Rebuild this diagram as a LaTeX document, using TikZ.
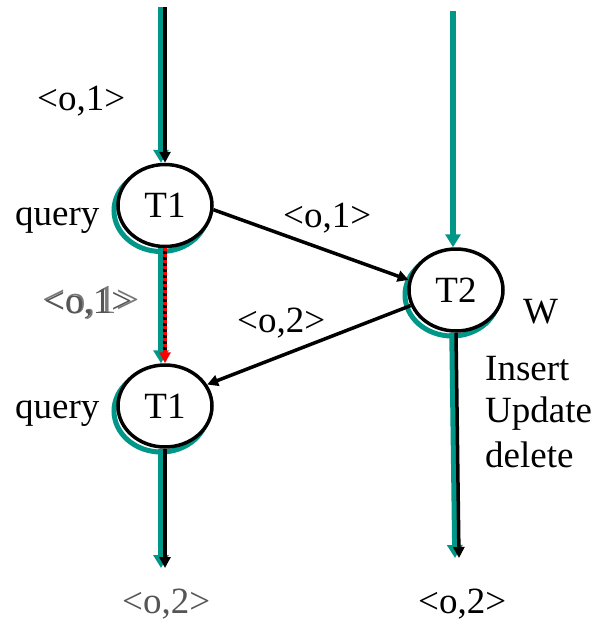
\documentclass[tikz,border=0pt]{standalone}
\usepackage{fontspec}
\setmainfont{Liberation Serif}
\usetikzlibrary{arrows.meta,shapes.geometric,shadows}
\definecolor{tealc}{RGB}{0,150,136}
\definecolor{grayA}{RGB}{85,85,85}
\definecolor{grayB}{RGB}{120,120,120}
\begin{document}
\begin{tikzpicture}[x=1pt,y=-1pt,
  every node/.style={font=\fontsize{37}{43}\selectfont},
  lbl/.style={anchor=base west, inner sep=0pt},
  proc/.style={ellipse, draw=black, fill=white, line width=3.5pt,
    minimum width=94pt, minimum height=82pt, inner sep=0pt,
    general shadow={draw=tealc, fill=none, line width=5pt, shadow xshift=-4pt, shadow yshift=-5pt}},
  blk/.style={draw=black, line width=3.5pt, -{Triangle[length=11pt,width=11pt]}},
  tl/.style={draw=tealc, line width=5.5pt, -{Triangle[length=13pt,width=15pt]}},
  tlshift/.style={transform canvas={xshift=-4pt}}]
\useasboundingbox (0,0) rectangle (608,624);

% processes
\node[proc] (T1a) at (165,205.5) {T1};
\node[proc] (T1b) at (165,406) {T1};
\node[proc] (T2) at (456,290) {T2};

% free ends
\coordinate (in1) at (165,7);
\coordinate (in2) at (453,11);
\coordinate (out1) at (165,568);
\coordinate (out2) at (459,558);

% input into T1 (top)
\draw[tl,tlshift] (in1) -- (T1a.north);
\draw[blk] (in1) -- (T1a.north);

% input into T2 (teal only)
\draw[tl] (in2) -- (in2 |- T2.north);

% T1 -> T1 (red dotted)
\draw[tl,tlshift] (T1a.south) -- (T1b.north);
\draw[line width=3.5pt, black, -{Triangle[length=11pt,width=11pt,color=red]}] (T1a.south) -- (T1b.north);
\draw[line width=3.5pt, red, dash pattern=on 3pt off 3pt, shorten >=6pt] (T1a.south) -- (T1b.north);

% output of T1 (bottom)
\draw[tl,tlshift] (T1b.south) -- (out1);
\draw[blk] (T1b.south) -- (out1);

% output of T2
\draw[tl,tlshift] (T2.south) -- (out2);
\draw[blk] (T2.south) -- (out2);

% T1 -> T2 and T2 -> T1
\draw[blk] (T1a.-5) -- (T2.168);
\draw[blk] (T2.199) -- (T1b.27);

% labels
\node[lbl] (lin) at (37,110) {<o,1>};
\node[lbl] (q1) at (15,225) {query};
\node[lbl] (lmid) at (283,227) {<o,1>};
\node[lbl, text=grayB, font=\fontsize{41}{45}\selectfont] (gB) at (42,313) {<o,1>};
\node[lbl, text=grayA] (gA) at (44,313) {<o,1>};
\node[lbl] (l2) at (237,332) {<o,2>};
\node[lbl] (w) at (523,323) {W};
\node[lbl] (ins) at (485,380) {Insert};
\node[lbl] (upd) at (485,422) {Update};
\node[lbl] (del) at (485,467) {delete};
\node[lbl] (q2) at (15,418) {query};
\node[lbl, text=grayA] (o1) at (122,613) {<o,2>};
\node[lbl] (o2) at (418,613) {<o,2>};
\end{tikzpicture}
\end{document}
